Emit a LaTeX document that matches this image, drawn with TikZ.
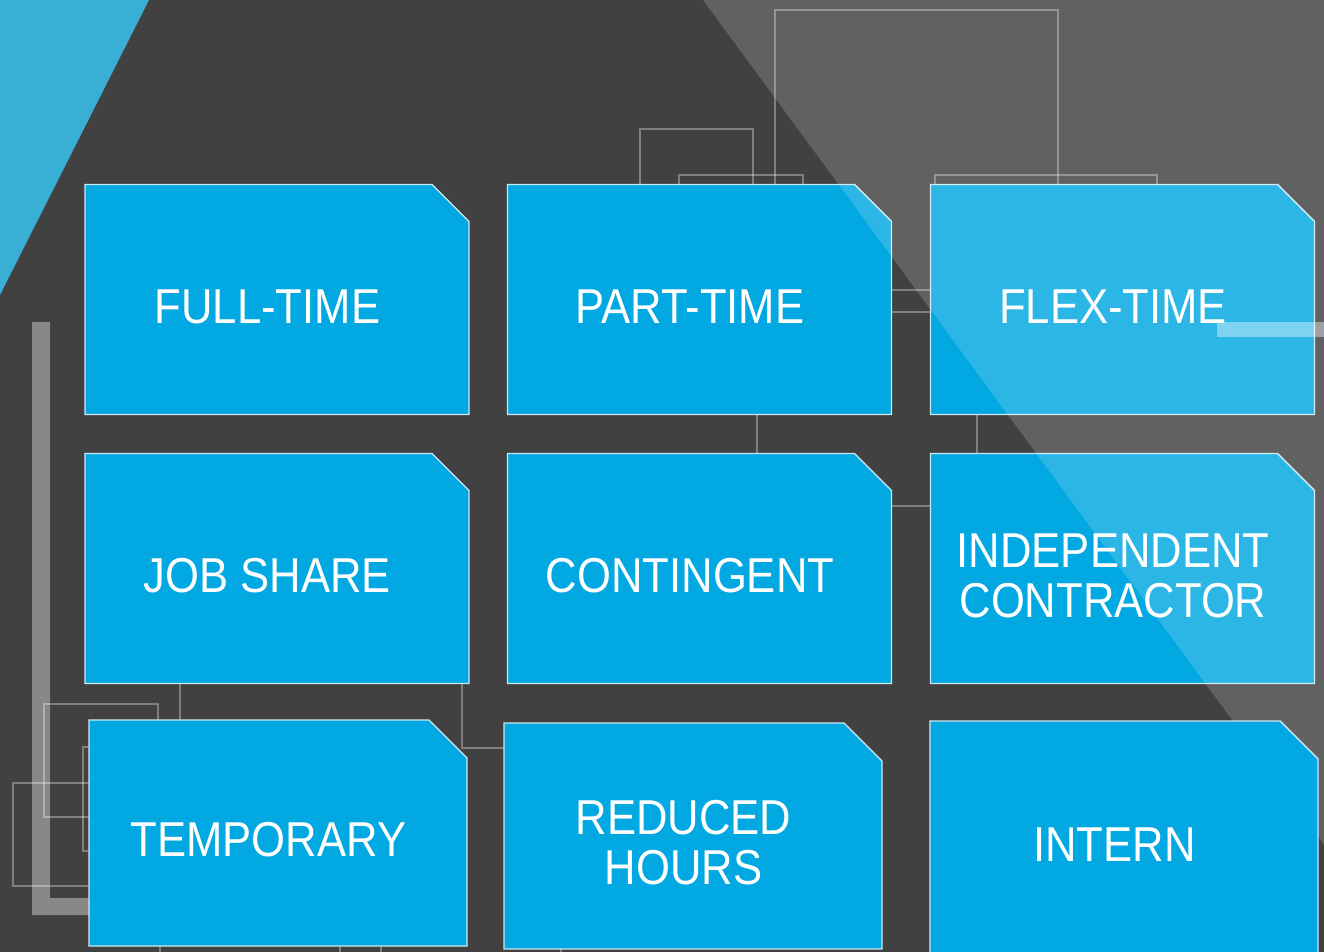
\documentclass[tikz,border=0pt]{standalone}
\usepackage{fontspec}
\usetikzlibrary{calc}
\newfontfamily\tilefont{Liberation Sans}[FakeStretch=0.89]

\definecolor{backdrop}{RGB}{65,65,65}
\definecolor{wedge}{RGB}{58,175,214}
\definecolor{tileblue}{RGB}{2,168,225}
\definecolor{tilerim}{RGB}{205,232,243}
\definecolor{railgray}{RGB}{136,136,136}

\pgfdeclarelayer{base}
\pgfdeclarelayer{glaze}
\pgfdeclarelayer{top}
\pgfsetlayers{base,main,glaze,top}

\begin{document}
\begin{tikzpicture}[x=1pt, y=-1pt,
    tile/.style={rectangle, inner sep=0pt, outer sep=0pt,
        minimum width=384pt, minimum height=230pt},
    small tile/.style={tile, minimum width=378pt, minimum height=226pt},
    paint/.style={fill=tileblue, draw=tilerim, line width=1.4pt},
    caption/.style={text=white, align=center, inner sep=0pt,
        font=\tilefont\fontsize{49}{50}\selectfont, xshift=-9.5pt, yshift=-7pt},
    wire/.style={draw=white, draw opacity=0.33, line width=1.8pt}
]
\useasboundingbox (0,0) rectangle (1324,952);

\begin{pgfonlayer}{base}
\fill[backdrop] (0,0) rectangle (1324,952);
\fill[wedge] (0,0) -- (149,0) -- (0,295) -- cycle;
\fill[railgray] (32,322) -- (50,322) -- (50,898) -- (95,898) -- (95,915) -- (32,915) -- cycle;
\end{pgfonlayer}

\node[tile] at (277,299.5) (fulltime) {};
\node[tile] at (699.5,299.5) (parttime) {};
\node[tile] at (1122.5,299.5) (flextime) {};
\node[tile] at (277,568.5) (jobshare) {};
\node[tile] at (699.5,568.5) (contingent) {};
\node[tile] at (1122.5,568.5) (independent) {};
\foreach \t in {fulltime,parttime,flextime,jobshare,contingent,independent}
    \draw[paint] (\t.south west) -- (\t.north west) -- ($(\t.north east)+(-37,0)$)
        -- ($(\t.north east)+(0,37)$) -- (\t.south east) -- cycle;

\node[caption] at (fulltime) (fulltime-text) {FULL-TIME};
\node[caption] at (parttime) (parttime-text) {PART-TIME};
\node[caption] at (flextime) (flextime-text) {FLEX-TIME};
\node[caption] at (jobshare) (jobshare-text) {JOB SHARE};
\node[caption] at (contingent) (contingent-text) {CONTINGENT};
\node[caption] at (independent) (independent-text) {INDEPENDENT\\CONTRACTOR};

\begin{pgfonlayer}{top}
\node[small tile] at (278,833) (temporary) {};
\node[small tile] at (693,836) (reduced) {};
\node[tile, minimum width=388pt, minimum height=234pt] at (1124,838) (intern) {};
\foreach \t in {temporary,reduced,intern}
    \draw[paint] (\t.south west) -- (\t.north west) -- ($(\t.north east)+(-38,0)$)
        -- ($(\t.north east)+(0,38)$) -- (\t.south east) -- cycle;
\node[caption] at (temporary) (temporary-text) {TEMPORARY};
\node[caption] at (reduced) (reduced-text) {REDUCED\\HOURS};
\node[caption] at (intern) (intern-text) {INTERN};
\end{pgfonlayer}

\begin{pgfonlayer}{base}
% outlines behind the tiles
\draw[wire] (775,230) |- (1058,10) -- (1058,230);
\draw[wire] (640,230) |- (753,129) -- (753,230);
\draw[wire] (679,230) |- (803,175) -- (803,230);
\draw[wire] (935,230) |- (1157,175) -- (1157,230);
\draw[wire] (44,704) rectangle (158,817);
\draw[wire] (13,783) rectangle (120,886);
\draw[wire] (83,747) rectangle (120,851);
\foreach \x in {160,340,381,561}
    \draw[wire] (\x,935) -- (\x,960);
% links between neighbouring tiles
\draw[wire] ($(parttime.east)+(0,-9.5)$) -- ($(flextime.west)+(0,-9.5)$);
\draw[wire] ($(parttime.east)+(0,12.5)$) -- ($(flextime.west)+(0,12.5)$);
\draw[wire] ($(parttime.south)+(57.5,0)$) -- ($(contingent.north)+(57.5,0)$);
\draw[wire] ($(flextime.south)+(-145.5,0)$) -- ($(independent.north)+(-145.5,0)$);
\draw[wire] ($(contingent.east)+(0,-62.5)$) -- ($(independent.west)+(0,-62.5)$);
\draw[wire] ($(jobshare.south)+(-97,0)$) -- ($(temporary.north)+(-98,0)$);
\draw[wire] ($(jobshare.south)+(185,0)$) |- ($(reduced.west)+(0,-88)$);
\end{pgfonlayer}

\begin{pgfonlayer}{glaze}
\fill[white, opacity=0.17] (703,0) -- (1324,0) -- (1324,845) -- cycle;
\fill[white, opacity=0.4] (1217,322) rectangle (1324,337);
\end{pgfonlayer}
\end{tikzpicture}
\end{document}
